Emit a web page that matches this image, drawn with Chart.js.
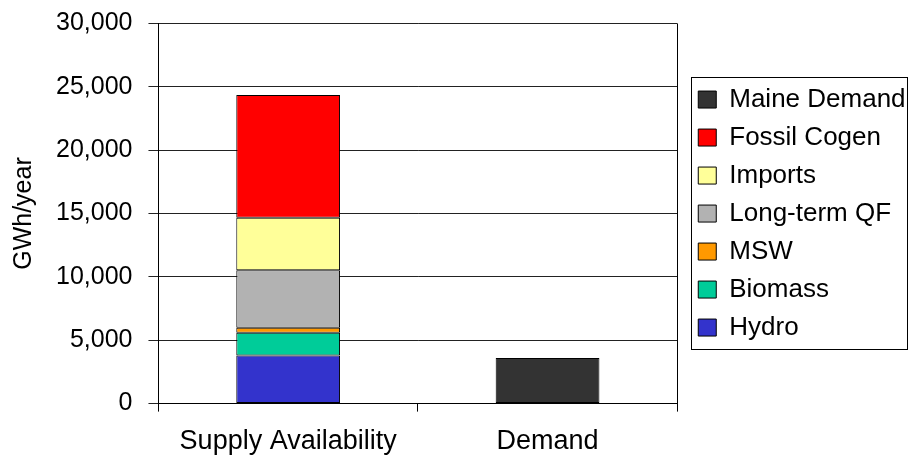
<!DOCTYPE html>
<html lang="en">
<head>
<meta charset="UTF-8">
<title>Supply Availability vs Demand</title>
<script src="https://cdn.jsdelivr.net/npm/chart.js"></script>
<style>
  html, body { margin: 0; padding: 0; background: #fff; }
  #wrap { width: 909px; height: 459px; }
</style>
</head>
<body>
<div id="wrap"><canvas id="supplyChart" width="909" height="459"></canvas></div>
<script>
// categories on the x axis
const categories = ['Supply Availability', 'Demand'];

// GWh/year (supply stack bottom to top, then demand)
const hydro = [3800, null];
const biomass = [1800, null];
const msw = [380, null];
const longTermQF = [4550, null];
const imports = [4130, null];
const fossilCogen = [9700, null];
const maineDemand = [null, 3600];

const yTicks = [0, 5000, 10000, 15000, 20000, 25000, 30000];

const FONT = 'Arial, "Liberation Sans", sans-serif';
const LEGEND_SHIFT = 9; // push the legend a bit away from the plot frame

// frame on the right of the plot area and around the legend (excel style)
const framePlugin = {
  id: 'frame',
  afterLayout(chart) {
    const lg = chart.legend;
    if (lg) {
      lg.left += LEGEND_SHIFT;
      lg.right += LEGEND_SHIFT;
    }
  },
  afterDraw(chart) {
    const ctx = chart.ctx;
    const a = chart.chartArea;
    ctx.save();
    ctx.strokeStyle = '#000';
    ctx.lineWidth = 1;
    ctx.beginPath();
    ctx.moveTo(Math.round(a.right) + 0.5, a.top);
    ctx.lineTo(Math.round(a.right) + 0.5, a.bottom);
    ctx.stroke();

    const lg = chart.legend;
    if (lg && lg.legendHitBoxes && lg.legendHitBoxes.length) {
      const boxes = lg.legendHitBoxes;
      const left = Math.round(boxes[0].left) - 7;
      const top = Math.round(boxes[0].top) - 10;
      const last = boxes[boxes.length - 1];
      const bottom = Math.round(last.top + last.height) + 8;
      ctx.strokeRect(left + 0.5, top + 0.5, chart.width - 2 - left, bottom - top);
    }
    ctx.restore();
  }
};

const ctx = document.getElementById('supplyChart').getContext('2d');
const chart = new Chart(ctx, {
  type: 'bar',
  data: {
    labels: categories,
    datasets: [
      { label: 'Hydro', data: hydro, backgroundColor: '#3333CC' },
      { label: 'Biomass', data: biomass, backgroundColor: '#00CC99' },
      { label: 'MSW', data: msw, backgroundColor: '#FF9900' },
      { label: 'Long-term QF', data: longTermQF, backgroundColor: '#B2B2B2' },
      { label: 'Imports', data: imports, backgroundColor: '#FFFF99' },
      { label: 'Fossil Cogen', data: fossilCogen, backgroundColor: '#FF0000' },
      { label: 'Maine Demand', data: maineDemand, backgroundColor: '#333333' }
    ].map(d => Object.assign(d, {
      borderColor: '#000',
      borderWidth: 1,
      borderSkipped: false,
      barPercentage: 0.4,
      categoryPercentage: 1.0
    }))
  },
  options: {
    responsive: false,
    animation: false,
    devicePixelRatio: 1,
    layout: { padding: { top: 0, right: 6, bottom: -13, left: 0 } },
    plugins: {
      tooltip: { enabled: false },
      legend: {
        position: 'right',
        fullSize: false,
        reverse: true,
        labels: {
          color: '#000',
          font: { family: FONT, size: 26 },
          boxWidth: 18,
          boxHeight: 17,
          padding: 12
        }
      }
    },
    scales: {
      x: {
        stacked: true,
        offset: true,
        border: { color: '#000', width: 1 },
        grid: {
          offset: true,
          drawOnChartArea: false,
          color: '#000',
          tickLength: 8
        },
        ticks: {
          color: '#000',
          font: { family: FONT, size: 27 },
          padding: 14,
          maxRotation: 0
        }
      },
      y: {
        stacked: true,
        min: yTicks[0],
        max: yTicks[yTicks.length - 1],
        afterBuildTicks(axis) {
          axis.ticks = yTicks.map(v => ({ value: v }));
        },
        border: { color: '#000', width: 1 },
        grid: { color: '#222', tickLength: 10 },
        title: {
          display: true,
          text: 'GWh/year',
          color: '#000',
          font: { family: FONT, size: 25 },
          padding: { top: 9, bottom: 1 }
        },
        ticks: {
          color: '#000',
          font: { family: FONT, size: 25, lineHeight: 0.6 },
          padding: 16,
          callback: v => v.toLocaleString('en-US')
        }
      }
    }
  },
  plugins: [framePlugin]
});
</script>
</body>
</html>
